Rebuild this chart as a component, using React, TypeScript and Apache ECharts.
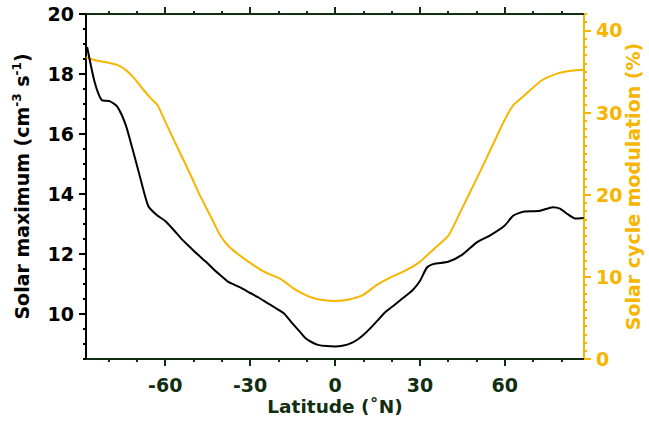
import React, { useEffect, useRef } from "react";
import * as echarts from "echarts";

// Black curve: solar maximum (left axis)
const maxLat = [-87.6, -85, -82.5, -79.5, -77, -74, -71.5, -69, -66, -63, -60, -57, -54.5, -51.5, -48.5, -45.5, -43, -40, -38, -35.5, -33, -30, -27, -24, -21, -18, -15, -12.5, -10.5, -8, -6, -3, 0, 3, 5.5, 8, 10, 12, 15, 18, 21, 24, 27.5, 30, 32.5, 35, 40, 45, 50, 55, 60, 63, 67, 72, 77, 79.5, 82.5, 85, 87.9];
const maxVal = [18.9, 17.75, 17.14, 17.09, 16.92, 16.31, 15.48, 14.6, 13.6, 13.3, 13.1, 12.8, 12.53, 12.25, 11.98, 11.73, 11.5, 11.25, 11.09, 10.97, 10.86, 10.7, 10.55, 10.37, 10.2, 10.02, 9.68, 9.42, 9.2, 9.05, 8.97, 8.93, 8.92, 8.95, 9.02, 9.15, 9.3, 9.48, 9.78, 10.08, 10.3, 10.53, 10.8, 11.1, 11.55, 11.67, 11.74, 11.98, 12.38, 12.63, 12.95, 13.28, 13.42, 13.43, 13.56, 13.51, 13.31, 13.18, 13.2];

// Orange curve: solar cycle modulation (right axis)
const modLat = [-87.9, -84, -80.5, -77, -74, -71, -68, -65, -62.7, -60, -57, -53.5, -50.5, -48, -44, -40.5, -37.5, -34, -30, -25.5, -19, -14.7, -10.5, -6.5, 0, 5, 10, 14.7, 19.5, 24.5, 29.5, 35, 40, 42.5, 45, 50, 56.5, 59.5, 63, 67, 73, 79, 83.5, 87.9];
const modVal = [36.7, 36.3, 36.1, 35.8, 35.2, 34.2, 32.9, 31.7, 30.9, 28.9, 26.7, 24.2, 22.0, 20.1, 17.4, 15.0, 13.7, 12.7, 11.7, 10.7, 9.7, 8.6, 7.8, 7.3, 7.07, 7.25, 7.8, 9.0, 9.9, 10.7, 11.7, 13.4, 15.0, 16.6, 18.4, 21.9, 26.6, 28.8, 30.9, 32.1, 33.9, 34.8, 35.1, 35.2];

// Axis extents and tick steps
const X_MIN = -88;
const X_MAX = 88;
const X_STEP = 2;
const X_MAJOR = 30;
const X_MINOR = 10;
const L_MIN = 8.5;
const L_MAX = 20;
const L_STEP = 0.5;
const L_MAJOR = 2;
const R_MIN = 0;
const R_MAX = 42;
const R_STEP = 1;
const R_MAJOR = 10;

const range = (a: number, b: number, s: number) =>
  Array.from({ length: Math.round((b - a) / s) + 1 }, (_, i) => String(+(a + i * s).toFixed(2)));

const latSlots = range(X_MIN, X_MAX, X_STEP);
const leftSlots = range(L_MIN, L_MAX, L_STEP);
const rightSlots = range(R_MIN, R_MAX, R_STEP);

const GREEN = "#112e11";
const ORANGE = "#f7b500";
const FONT = "DejaVu Sans";

const every = (step: number) => (_i: number, v: string) => Math.abs(Number(v) % step) < 1e-9;

export default function App() {
  const ref = useRef<HTMLDivElement>(null);
  useEffect(() => {
    if (!ref.current) return;
    const chart = echarts.init(ref.current, undefined, { renderer: "svg" });

    const xCat = (pos: string, step: number, len: number, labels: boolean, extra: any = {}) => ({
      type: "category",
      position: pos,
      data: latSlots,
      boundaryGap: false,
      splitLine: { show: false },
      axisLine: { show: true, onZero: false, lineStyle: { color: GREEN, width: 2 } },
      axisTick: { show: true, interval: every(step), length: len, lineStyle: { color: GREEN, width: 2 } },
      axisLabel: labels
        ? {
            show: true,
            interval: every(step),
            margin: 17,
            lineHeight: 17,
            color: GREEN,
            fontFamily: FONT,
            fontWeight: "bold",
            fontSize: 19,
          }
        : { show: false },
      ...extra,
    });

    chart.setOption({
      animation: false,
      grid: { left: 86, top: 14, right: 65, bottom: 67, containLabel: false, outerBoundsMode: "none" },
      xAxis: [
        {
          type: "value",
          position: "bottom",
          min: X_MIN,
          max: X_MAX,
          show: false,
          splitLine: { show: false },
        },
        xCat("bottom", X_MAJOR, 7, true, {
          name: "Latitude (˚N)",
          nameLocation: "middle",
          nameGap: 38,
          nameMoveOverlap: false,
          nameTextStyle: { color: GREEN, fontFamily: FONT, fontWeight: "bold", fontSize: 18.5, lineHeight: 18 },
        }),
        xCat("bottom", X_MINOR, 3, false),
        xCat("top", X_MAJOR, 7, false),
        xCat("top", X_MINOR, 3, false),
      ],
      yAxis: [
        {
          type: "value",
          position: "left",
          min: L_MIN,
          max: L_MAX,
          interval: L_STEP,
          splitLine: { show: false },
          axisLine: { show: true, onZero: false, lineStyle: { color: "#000", width: 2 } },
          axisTick: { show: true, length: 3, lineStyle: { color: "#000", width: 2 } },
          axisLabel: { show: false },
        },
        {
          type: "category",
          position: "left",
          data: leftSlots,
          boundaryGap: false,
          splitLine: { show: false },
          axisLine: { show: true, onZero: false, lineStyle: { color: "#000", width: 2 } },
          axisTick: { show: true, interval: every(L_MAJOR), length: 7, lineStyle: { color: "#000", width: 2 } },
          axisLabel: {
            show: true,
            interval: every(L_MAJOR),
            margin: 12,
            color: "#000",
            fontFamily: FONT,
            fontWeight: "bold",
            fontSize: 19,
          },
          name: "{t|Solar maximum (cm}{s|-3}{t| s}{s|-1}{t|)}",
          nameLocation: "middle",
          nameRotate: 90,
          nameGap: 53,
          nameMoveOverlap: false,
          nameTextStyle: {
            color: "#000",
            fontFamily: FONT,
            fontWeight: "bold",
            fontSize: 19,
            rich: {
              t: { fontFamily: FONT, fontWeight: "bold", fontSize: 19, color: "#000", lineHeight: 22 },
              s: { fontFamily: FONT, fontWeight: "bold", fontSize: 12, color: "#000", verticalAlign: "top", lineHeight: 22, padding: [0, 0, 9, 0] },
            },
          },
        },
        {
          type: "value",
          position: "right",
          min: R_MIN,
          max: R_MAX,
          interval: R_STEP,
          splitLine: { show: false },
          axisLine: { show: true, onZero: false, lineStyle: { color: ORANGE, width: 2 } },
          axisTick: { show: true, length: 3, lineStyle: { color: ORANGE, width: 2 } },
          axisLabel: { show: false },
        },
        {
          type: "category",
          position: "right",
          data: rightSlots,
          boundaryGap: false,
          splitLine: { show: false },
          axisLine: { show: true, onZero: false, lineStyle: { color: ORANGE, width: 2 } },
          axisTick: { show: true, interval: every(R_MAJOR), length: 7, lineStyle: { color: ORANGE, width: 2 } },
          axisLabel: {
            show: true,
            interval: every(R_MAJOR),
            margin: 12,
            color: ORANGE,
            fontFamily: FONT,
            fontWeight: "bold",
            fontSize: 19,
          },
          name: "Solar cycle modulation (%)",
          nameLocation: "middle",
          nameRotate: 90,
          nameGap: 39,
          nameMoveOverlap: false,
          nameTextStyle: { color: ORANGE, fontFamily: FONT, fontWeight: "bold", fontSize: 19 },
        },
      ],
      series: [
        {
          type: "line",
          xAxisIndex: 0,
          yAxisIndex: 2,
          data: modLat.map((x, i) => [x, modVal[i]]),
          showSymbol: false,
          symbol: "none",
          smooth: 0.2,
          lineStyle: { color: ORANGE, width: 2 },
          itemStyle: { color: ORANGE },
        },
        {
          type: "line",
          xAxisIndex: 0,
          yAxisIndex: 0,
          data: maxLat.map((x, i) => [x, maxVal[i]]),
          showSymbol: false,
          symbol: "none",
          smooth: 0.2,
          lineStyle: { color: "#000", width: 2 },
          itemStyle: { color: "#000" },
        },
      ],
    });
    return () => chart.dispose();
  }, []);
  return (
    <div
      ref={ref}
      style={{ position: "fixed", left: 0, top: 0, width: 649, height: 426, background: "#fff" }}
    />
  );
}
